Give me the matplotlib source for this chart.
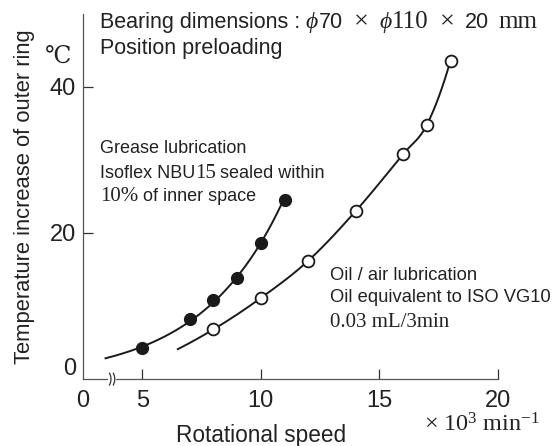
import numpy as np
import matplotlib
matplotlib.use('Agg')
import matplotlib.pyplot as plt
from matplotlib import rcParams
from matplotlib.transforms import IdentityTransform

# 字体设置
SANS = ['Liberation Sans', 'DejaVu Sans']
SERIF = ['Liberation Serif', 'DejaVu Serif', 'DejaVu Sans']
rcParams['font.family'] = SANS
rcParams['mathtext.fontset'] = 'custom'
rcParams['mathtext.rm'] = 'Liberation Serif'
rcParams['mathtext.it'] = 'Liberation Serif:italic'
TXT = '#222222'

# 数据 (x: 10^3 min^-1, y: ℃)
grease_speed = [5, 7, 8, 9, 10, 11]
grease_temp = [4.3, 8.2, 10.8, 13.8, 18.6, 24.5]
oil_speed = [8, 10, 12, 14, 16, 17, 18]
oil_temp = [6.8, 11.1, 16.2, 23.0, 30.8, 34.8, 43.6]

xticks = [2.5, 5, 10, 15, 20]
xticklabels = ['0', '5', '10', '15', '20']
yticks = [20, 40]

fig = plt.figure(figsize=(5.57, 4.46), dpi=100)
ax = fig.add_axes([0.149, 0.150, 0.745, 0.819])


def put_line(x, y, parts):
    # 同一行里混排无衬线/衬线文字
    rend = fig.canvas.get_renderer()
    px, py = ax.transData.transform((x, y))
    for s, fam, size, style, gap in parts:
        t = ax.text(px, py, s, transform=IdentityTransform(), ha='left', va='baseline',
                    family=fam, fontsize=size, style=style, color=TXT)
        px = t.get_window_extent(rend).x1 + gap


def smooth_curve(xs, ys, x_start, n=40):
    # 过数据点的三次Hermite曲线, 左端用前三点抛物线外延
    xs = np.asarray(xs, float)
    ys = np.asarray(ys, float)
    h = np.diff(xs)
    d = np.diff(ys) / h
    m = np.empty_like(xs)
    m[1:-1] = (d[:-1] * h[1:] + d[1:] * h[:-1]) / (h[:-1] + h[1:])
    m[0] = d[0] + (d[0] - d[1]) * h[0] / (h[0] + h[1])
    m[-1] = d[-1] + (d[-1] - d[-2]) * h[-1] / (h[-2] + h[-1])
    px, py = [], []
    p = np.polyfit(xs[:3], ys[:3], 2)
    xe = np.linspace(x_start, xs[0], n)
    px.append(xe)
    py.append(np.polyval(p, xe))
    for i in range(len(xs) - 1):
        t = np.linspace(0, 1, n)
        h00 = 2 * t**3 - 3 * t**2 + 1
        h10 = t**3 - 2 * t**2 + t
        h01 = -2 * t**3 + 3 * t**2
        h11 = t**3 - t**2
        px.append(xs[i] + t * h[i])
        py.append(h00 * ys[i] + h10 * h[i] * m[i] + h01 * ys[i + 1] + h11 * h[i] * m[i + 1])
    return np.concatenate(px), np.concatenate(py)


# 曲线
gfit = np.polyfit(grease_speed, np.log(grease_temp), 1)
gx = np.linspace(3.45, grease_speed[-1], 200)
ax.plot(gx, np.exp(np.polyval(gfit, gx)), color='#1a1a1a', lw=1.4, zorder=2)
ox, oy = smooth_curve(oil_speed, oil_temp, 6.5)
ax.plot(ox, oy, color='#1a1a1a', lw=1.4, zorder=2)

ax.plot(grease_speed, grease_temp, 'o', ms=8.5, mfc='#1a1a1a', mec='#1a1a1a', zorder=3)
ax.plot(oil_speed, oil_temp, 'o', ms=8.5, mfc='white', mec='#1a1a1a', mew=1.3, zorder=3)

ax.set_xlim(2.5, 20)
ax.set_ylim(0, 50)
ax.spines['top'].set_visible(False)
ax.spines['right'].set_visible(False)
for s in ['left', 'bottom']:
    ax.spines[s].set_linewidth(0.9)
    ax.spines[s].set_color('#555555')
ax.set_xticks(xticks)
ax.set_xticklabels(xticklabels)
ax.set_yticks(yticks)
ax.tick_params(direction='in', length=7, width=0.9, color='#333333',
               labelsize=17, colors=TXT)
ax.tick_params(axis='x', pad=8)
ax.tick_params(axis='y', pad=5)
ax.xaxis.get_major_ticks()[0].tick1line.set_visible(False)
ax.annotate('0', xy=(0, 0), xycoords='axes fraction', xytext=(-5, -1),
            textcoords='offset points', ha='right', va='bottom', fontsize=17, color=TXT)

# 断轴符号
ax.plot([3.63, 3.80], [0, 0], color='white', lw=3, zorder=4, clip_on=False)
tt = np.linspace(-1, 1, 20)
for bx in [3.62, 3.78]:
    ax.plot(bx + 0.06 * (1 - tt ** 2), tt * 0.8, color='#333333', lw=0.9, zorder=5, clip_on=False)

# 坐标轴标题
ax.text(-0.142, 0.5, 'Temperature increase of outer ring', transform=ax.transAxes,
        rotation=90, ha='center', va='center', fontsize=15.8, color=TXT)
ax.text(10.0, -7.75, 'Rotational speed', ha='center', va='center', fontsize=16.3, color=TXT)
ax.text(1.45, 44.1, '℃', ha='center', va='center', fontsize=17, family=SERIF, color=TXT)
ax.text(16.9, -7.15, r'$\times\ \mathrm{10^3\ min^{-1}}$', ha='left', va='baseline',
        fontsize=17.5, color=TXT)

# 注释文字
put_line(3.2, 48.0, [('Bearing dimensions :', SANS, 15.5, 'normal', 6),
                     ('ϕ', SERIF, 17, 'italic', 1),
                     ('70', SANS, 15.5, 'normal', 11),
                     ('×', SERIF, 19, 'normal', 10),
                     ('ϕ', SERIF, 17, 'italic', 1),
                     ('110', SERIF, 18, 'normal', 11),
                     ('×', SERIF, 19, 'normal', 10),
                     ('20', SANS, 15.5, 'normal', 9),
                     ('mm', SERIF, 18, 'normal', 0)])
put_line(3.2, 44.5, [('Position preloading', SANS, 15.5, 'normal', 0)])

put_line(3.23, 30.9, [('Grease lubrication', SANS, 13, 'normal', 0)])
put_line(3.23, 27.5, [('Isoflex NBU', SANS, 13, 'normal', 0),
                      ('15', SERIF, 15, 'normal', 4),
                      ('sealed within', SANS, 13, 'normal', 0)])
put_line(3.23, 24.4, [('10%', SERIF, 15, 'normal', 4),
                      ('of inner space', SANS, 13, 'normal', 0)])

put_line(12.93, 13.6, [('Oil / air lubrication', SANS, 13.2, 'normal', 0)])
put_line(12.93, 10.6, [('Oil equivalent to ISO VG10', SANS, 13.2, 'normal', 0)])
put_line(12.93, 7.2, [('0.03 mL/3min', SERIF, 15, 'normal', 0)])

fig.savefig('out.png', dpi=100)
